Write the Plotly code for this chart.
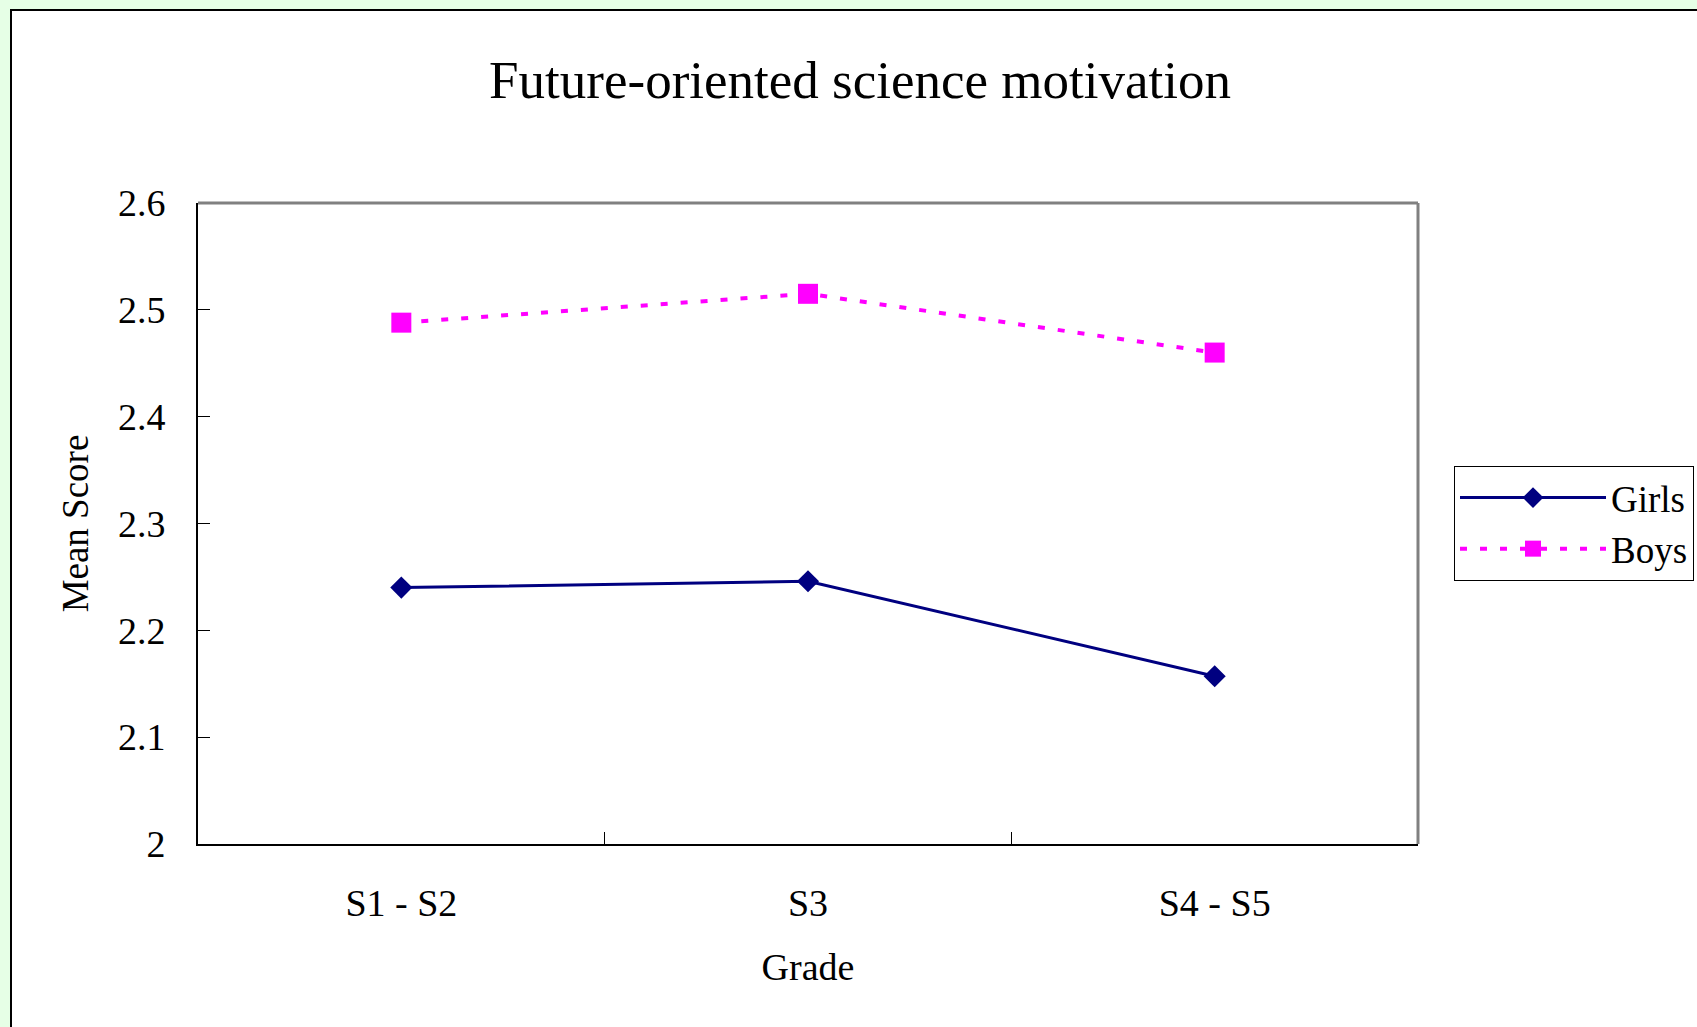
import plotly.graph_objects as go

categories = ["S1 - S2", "S3", "S4 - S5"]
girls = [2.240, 2.246, 2.157]
boys = [2.488, 2.515, 2.460]
y_ticks = [2.0, 2.1, 2.2, 2.3, 2.4, 2.5, 2.6]
y_tick_labels = ["2", "2.1", "2.2", "2.3", "2.4", "2.5", "2.6"]

FONT = "Liberation Serif, Times New Roman, serif"

fig = go.Figure()
fig.add_trace(go.Scatter(
    x=categories, y=girls, name="Girls", mode="lines+markers",
    line=dict(color="#000080", width=3),
    marker=dict(symbol="diamond", size=17, color="#000080"),
))
fig.add_trace(go.Scatter(
    x=categories, y=boys, name="Boys", mode="lines+markers",
    line=dict(color="#FF00FF", width=4, dash="7px,13px"),
    marker=dict(symbol="square", size=20, color="#FF00FF"),
))

W, H = 1697, 1027
L, R, T, B = 198, 279, 203, 183
pw, ph = W - L - R, H - T - B

def px(x):
    return (x - L) / pw

def py(y):
    return (H - B - y) / ph

shapes = [
    # outer white frame on green page
    dict(type="rect", xref="paper", yref="paper", layer="below",
         x0=px(11), x1=px(1720), y0=py(1050), y1=py(10),
         fillcolor="white", line=dict(color="black", width=2)),
    # gray top and right plot borders
    dict(type="line", xref="paper", yref="paper", x0=0, x1=1, y0=1, y1=1,
         line=dict(color="#808080", width=3)),
    dict(type="line", xref="paper", yref="paper", x0=1, x1=1, y0=0, y1=1,
         line=dict(color="#808080", width=3)),
]

fig.update_layout(
    width=W, height=H,
    margin=dict(l=L, r=R, t=T, b=B, autoexpand=False),
    paper_bgcolor="#E6FFE6",
    plot_bgcolor="white",
    font=dict(family=FONT, color="black", size=38),
    title=dict(text="Future-oriented science motivation",
               font=dict(family=FONT, size=53, color="black"),
               x=860 / W, xanchor="center", y=1 - 79 / H, yanchor="middle"),
    shapes=shapes,
    showlegend=True,
    legend=dict(x=px(1454), xanchor="left", y=py(466), yanchor="top",
                bgcolor="white", bordercolor="black", borderwidth=1,
                font=dict(family=FONT, size=37, color="black"),
                itemwidth=146, tracegroupgap=0),
    xaxis=dict(
        type="category", range=[-0.5, 2.5], tickson="boundaries",
        ticks="inside", ticklen=12, tickcolor="black", tickwidth=1,
        showline=True, linecolor="black", linewidth=2,
        showgrid=False, zeroline=False, ticklabelstandoff=24,
        tickfont=dict(family=FONT, size=38),
        title=dict(text="Grade", font=dict(family=FONT, size=38), standoff=31),
    ),
    yaxis=dict(
        range=[2.0, 2.6], tickmode="array", tickvals=y_ticks,
        ticktext=y_tick_labels,
        ticks="inside", ticklen=12, tickcolor="black", tickwidth=1,
        showline=True, linecolor="black", linewidth=2,
        showgrid=False, zeroline=False, ticklabelstandoff=23,
        tickfont=dict(family=FONT, size=38),
        title=dict(text="Mean Score", font=dict(family=FONT, size=37), standoff=18),
    ),
)

fig.write_html(
    "out.html",
    config={"displayModeBar": False},
    post_script="document.body.style.margin='0';document.body.style.background='#E6FFE6';",
)
